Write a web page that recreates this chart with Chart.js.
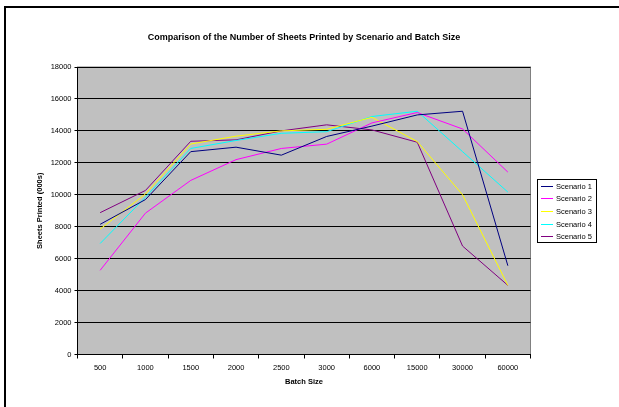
<!DOCTYPE html>
<html>
<head>
<meta charset="utf-8">
<script src="https://cdn.jsdelivr.net/npm/chart.js@4/dist/chart.umd.min.js"></script>
<style>
  html, body { margin: 0; padding: 0; background: #fff; }
  #wrap { width: 619px; height: 407px; position: relative; }
</style>
</head>
<body>
<div id="wrap"><canvas id="chart" width="619" height="407"></canvas></div>
<script>
// data (thousands of sheets)
const batchSizes = ['500', '1000', '1500', '2000', '2500', '3000', '6000', '15000', '30000', '60000']
const scenario1 = [8150, 9700, 12700, 12980, 12480, 13650, 14300, 15000, 15230, 5560]
const scenario2 = [5270, 8850, 10900, 12200, 12900, 13170, 14500, 15150, 14120, 11420]
const scenario3 = [7850, 10050, 13180, 13670, 14000, 14100, 14850, 13330, 10000, 4330]
const scenario4 = [6950, 9850, 12900, 13400, 13850, 13950, 14900, 15230, 12700, 10170]
const scenario5 = [8880, 10270, 13350, 13440, 14000, 14380, 14060, 13290, 6790, 4330]
const seriesNames = ['Scenario 1', 'Scenario 2', 'Scenario 3', 'Scenario 4', 'Scenario 5']
const seriesColors = ['#000080', '#FF00FF', '#FFFF00', '#00FFFF', '#800080']
const chartTitle = 'Comparison of the Number of Sheets Printed by Scenario and Batch Size'

const FONT = '"Liberation Sans", Arial, sans-serif'

// frame, grey plot area, title and legend
const excelLook = {
  id: 'excelLook',
  beforeDraw(chart) {
    const { ctx, chartArea: a } = chart
    ctx.save()
    ctx.fillStyle = '#C0C0C0'
    ctx.fillRect(a.left, a.top, a.right - a.left, a.bottom - a.top)
    ctx.strokeStyle = '#808080'
    ctx.lineWidth = 1
    ctx.strokeRect(a.left, a.top, a.right - a.left, a.bottom - a.top)
    // outer frame (left + top only visible)
    ctx.strokeStyle = '#000'
    ctx.lineWidth = 2
    ctx.beginPath()
    ctx.moveTo(5, 410)
    ctx.lineTo(5, 7)
    ctx.lineTo(622, 7)
    ctx.stroke()
    ctx.restore()
  },
  afterDraw(chart) {
    const { ctx, chartArea: a } = chart
    ctx.save()
    ctx.fillStyle = '#000'
    ctx.font = 'bold 9px ' + FONT
    ctx.textAlign = 'center'
    ctx.textBaseline = 'middle'
    ctx.fillText(chartTitle, (a.left + a.right) / 2, 38)

    // legend box
    const lx = 537.5, ly = 179.5, lw = 59, lh = 63
    ctx.fillStyle = '#fff'
    ctx.fillRect(lx, ly, lw, lh)
    ctx.strokeStyle = '#000'
    ctx.lineWidth = 1
    ctx.strokeRect(lx, ly, lw, lh)
    const rows = chart.data.datasets.map((ds, i) => ({ ds, y: Math.round(185.5 + i * 12.7) }))
    rows.forEach(({ ds, y }) => {
      ctx.strokeStyle = ds.borderColor
      ctx.lineWidth = 1
      ctx.beginPath()
      ctx.moveTo(541, y + 0.5)
      ctx.lineTo(553, y + 0.5)
      ctx.stroke()
    })
    ctx.font = '7.5px ' + FONT
    ctx.textAlign = 'left'
    ctx.fillStyle = '#000000'
    rows.forEach(({ ds, y }) => {
      ctx.fillText(ds.label, 556, y + 1)
    })
    ctx.restore()
  }
}

const allSeries = [scenario1, scenario2, scenario3, scenario4, scenario5]

new Chart(document.getElementById('chart'), {
  type: 'line',
  data: {
    labels: batchSizes,
    datasets: allSeries.map((vals, i) => ({
      label: seriesNames[i],
      data: vals,
      borderColor: seriesColors[i],
      backgroundColor: seriesColors[i],
      borderWidth: 1,
      pointRadius: 0,
      tension: 0,
      fill: false
    }))
  },
  options: {
    responsive: false,
    animation: false,
    devicePixelRatio: 1,
    layout: { padding: { left: 35, right: 88.5, top: 67, bottom: 20.5 } },
    plugins: {
      legend: { display: false },
      title: { display: false },
      tooltip: { enabled: false }
    },
    scales: {
      x: {
        offset: true,
        afterFit(scale) { scale.height = 32 },
        grid: { drawOnChartArea: false, offset: true, tickLength: 4, color: '#000', lineWidth: 1 },
        border: { color: '#000', width: 1 },
        ticks: { color: '#000', font: { family: FONT, size: 7.5 }, padding: 5, maxRotation: 0, autoSkip: false },
        title: { display: true, text: 'Batch Size', color: '#000', font: { family: FONT, size: 7.5, weight: 'bold' }, padding: { top: 0, bottom: 0 } }
      },
      y: {
        min: 0,
        max: 18000,
        afterFit(scale) { scale.width = 42.5 },
        grid: { color: '#000', lineWidth: 1, tickLength: 3 },
        border: { color: '#000', width: 1 },
        ticks: { stepSize: 2000, color: '#000', font: { family: FONT, size: 7.5 }, padding: 3, callback: v => String(v) },
        title: { display: true, text: 'Sheets Printed (000s)', color: '#000', font: { family: FONT, size: 7.5, weight: 'bold' }, padding: { top: 0, bottom: 0 } }
      }
    }
  },
  plugins: [excelLook]
})
</script>
</body>
</html>
